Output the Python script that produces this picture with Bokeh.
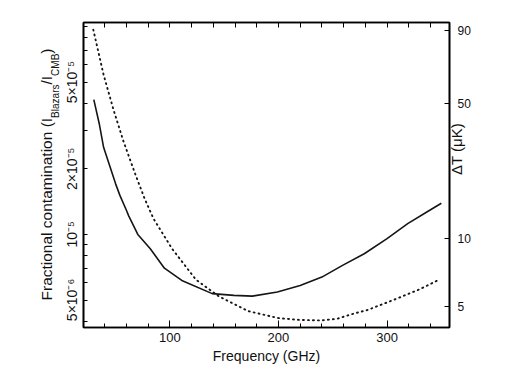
import math
from bokeh.plotting import figure
from bokeh.layouts import row
from bokeh.models import (Range1d, LogAxis, LinearAxis, FixedTicker, Label, LogScale)
from bokeh.embed import file_html
from bokeh.resources import INLINE

# ---------------- data ----------------
freq_solid = [30, 35, 39, 45, 50, 54, 60, 62, 70.5, 82, 95, 111, 139, 159, 176, 199, 220, 240, 259, 279, 300, 319, 337, 350]
frac_solid = [4.15e-5, 3.22e-5, 2.51e-5, 2.04e-5, 1.71e-5, 1.51e-5, 1.29e-5, 1.22e-5, 1.0e-5, 8.6e-6,
              7.0e-6, 6.15e-6, 5.35e-6, 5.25e-6, 5.21e-6, 5.44e-6, 5.83e-6, 6.37e-6, 7.21e-6, 8.15e-6,
              9.56e-6, 1.12e-5, 1.27e-5, 1.39e-5]

freq_dot = [29.5, 39, 48, 57, 68, 77, 85, 102, 124, 145, 172, 200, 220, 239, 254, 267, 282, 308, 330, 348]
frac_dot = [8.7e-5, 5.4e-5, 3.75e-5, 2.7e-5, 1.9e-5, 1.45e-5, 1.18e-5, 8.6e-6, 6.2e-6, 5.2e-6,
            4.45e-6, 4.13e-6, 4.05e-6, 4.03e-6, 4.1e-6, 4.3e-6, 4.5e-6, 5.05e-6, 5.6e-6, 6.2e-6]

x_major = [100, 200, 300]
x_minor = [40, 60, 80, 120, 140, 160, 180, 220, 240, 260, 280, 320, 340]
x_all = sorted(x_major + x_minor)

y_major = [5e-6, 1e-5, 2e-5, 5e-5]
y_labels = ["5×10⁻⁶", "10⁻⁵", "2×10⁻⁵", "5×10⁻⁵"]
y_minor = [4e-6, 6e-6, 7e-6, 8e-6, 9e-6, 3e-5, 4e-5, 6e-5, 7e-5, 8e-5, 9e-5]

# right axis: ΔT (μK) ~ fraction * 1.05e6 ; positions where the labels sit in the picture
dT_factor = 1.05e6
dT_labels = ["5", "10", "50", "90"]
dT_pos = [4.9, 10.1, 41.9, 90.3]

x_lo, x_hi = 20.5, 357.5
y_lo, y_hi = 3.74e-6, 9.38e-5

FONT = "Liberation Sans"
INK = "#111111"

# Liberation Sans advance widths (per 1000 em) used to chain the label pieces
AW = {'F': 611, 'r': 333, 'a': 556, 'c': 500, 't': 278, 'i': 222, 'o': 556, 'n': 556, 'l': 222,
      ' ': 278, 'm': 833, '(': 333, ')': 333, 'I': 278, '/': 278, 'B': 667, 'z': 500, 's': 500,
      'C': 722, 'M': 833}


def tw(s, size):
    return sum(AW.get(ch, 556) for ch in s) / 1000.0 * size


H = 372
LEFT_W = 61

# ---------------- left strip carrying the composed y label ----------------
lf = figure(width=LEFT_W, height=H, x_range=Range1d(0, LEFT_W), y_range=Range1d(0, H),
            min_border=0, toolbar_location=None, output_backend="svg",
            x_axis_location=None, y_axis_location=None)
lf.outline_line_color = None
lf.grid.visible = False

main_sz, sub_sz = 15.5, 10
ystart = 27          # from the (row-aligned) frame bottom
bx_main, bx_sub = 46, 54.5
pieces = [("Fractional contamination (I", main_sz, bx_main),
          ("Blazars", sub_sz, bx_sub),
          ("/I", main_sz, bx_main),
          ("CMB", sub_sz, bx_sub),
          (")", main_sz, bx_main)]
yy = ystart
for txt, sz, bx in pieces:
    lf.add_layout(Label(x=bx, y=yy, x_units="screen", y_units="screen", text=txt, angle=math.pi / 2,
                        text_font=FONT, text_font_size=f"{sz}px", text_color=INK,
                        text_align="left", text_baseline="alphabetic"))
    yy += tw(txt, sz)

# ---------------- main chart ----------------
p = figure(width=440, height=H, x_range=Range1d(x_lo, x_hi), y_range=Range1d(y_lo, y_hi),
           y_axis_type="log", output_backend="svg", toolbar_location=None,
           min_border_left=19, min_border_right=52, min_border_top=22, min_border_bottom=45)
p.grid.visible = False
p.outline_line_color = "black"
p.outline_line_width = 1.6
p.extra_y_ranges = {"dT": Range1d(y_lo * dT_factor, y_hi * dT_factor)}
p.extra_y_scales = {"dT": LogScale()}

xa = p.xaxis[0]
xa.ticker = FixedTicker(ticks=x_major, minor_ticks=x_minor)
xa.axis_label = "Frequency (GHz)"
xa.axis_label_text_font = FONT
xa.axis_label_text_font_size = "14px"
xa.axis_label_text_font_style = "normal"
xa.axis_label_text_color = INK
xa.axis_label_standoff = 3
xa.major_label_text_font = FONT
xa.major_label_text_font_size = "13px"
xa.major_label_text_color = INK
xa.major_label_standoff = 5
xa.major_tick_in = 7
xa.major_tick_out = 0
xa.minor_tick_in = 4
xa.minor_tick_out = 0
xa.axis_line_width = 1.6

ta = LinearAxis(ticker=FixedTicker(ticks=[], minor_ticks=x_all),
                minor_tick_in=5, minor_tick_out=0, major_tick_in=0, major_tick_out=0,
                axis_line_width=1.6)
p.add_layout(ta, "above")

ya = p.yaxis[0]
ya.ticker = FixedTicker(ticks=y_major, minor_ticks=y_minor)
ya.major_label_overrides = {v: s for v, s in zip(y_major, y_labels)}
ya.major_label_orientation = "vertical"
ya.major_label_text_font = FONT
ya.major_label_text_font_size = "14px"
ya.major_label_text_color = INK
ya.major_label_standoff = 3
ya.major_tick_in = 4
ya.major_tick_out = 0
ya.minor_tick_in = 4
ya.minor_tick_out = 0
ya.axis_line_width = 1.6

ra = LogAxis(y_range_name="dT", ticker=FixedTicker(ticks=dT_pos, minor_ticks=[]))
ra.major_label_overrides = {v: s for v, s in zip(dT_pos, dT_labels)}
ra.major_label_orientation = "horizontal"
ra.major_label_text_font = FONT
ra.major_label_text_font_size = "12px"
ra.major_label_text_color = INK
ra.major_label_standoff = 8
ra.major_tick_in = 5
ra.major_tick_out = 0
ra.axis_line_width = 1.6
ra.axis_label = "ΔT (μK)"
ra.axis_label_text_font = FONT
ra.axis_label_text_font_size = "15px"
ra.axis_label_text_font_style = "normal"
ra.axis_label_text_color = INK
ra.axis_label_standoff = -17
try:
    ra.axis_label_orientation = math.pi / 2
except Exception:
    pass
p.add_layout(ra, "right")

p.line(freq_solid, frac_solid, line_color="#151515", line_width=1.6)
p.line(freq_dot, frac_dot, line_color="#151515", line_width=1.9, line_dash="1 4", line_cap="round")

layout = row(lf, p)
open("out.html", "w").write(file_html(layout, INLINE))
